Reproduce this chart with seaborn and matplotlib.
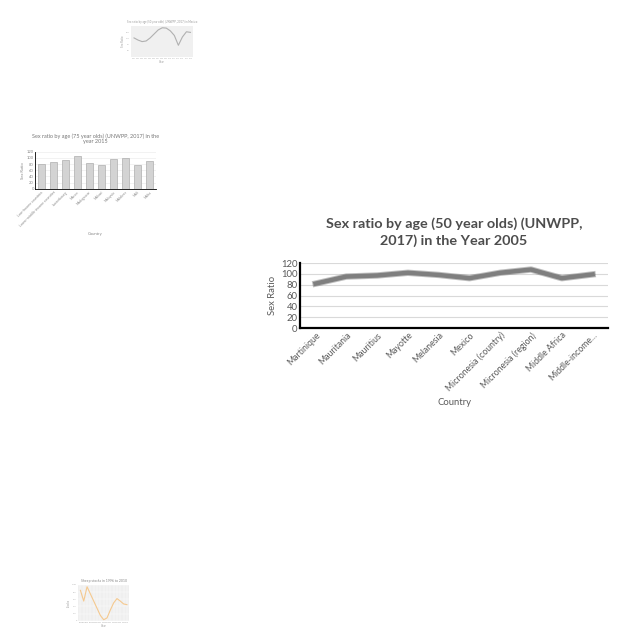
import pandas as pd
import numpy as np
import seaborn as sns
import matplotlib.pyplot as plt

# =========================
# Data
# =========================
countries = ["Martinique", "Mauritania", "Mauritius", "Mayotte", "Melanesia",
             "Mexico", "Micronesia (country)", "Micronesia (region)",
             "Middle Africa", "Middle-income..."]
sex_ratio = [82, 95, 97, 102, 98, 92, 102, 108, 92, 99]

# small thumbnail charts around the main one
thumb1_x = list(range(1, 16))
thumb1_y = [62, 55, 50, 52, 62, 75, 88, 95, 94, 85, 70, 38, 65, 82, 80]

thumb2_labels = ["Low-income countries", "Lower-middle-income countries",
                 "Luxembourg", "Macao", "Madagascar", "Malawi",
                 "Malaysia", "Maldives", "Mali", "Malta"]
thumb2_vals = [80, 88, 92, 107, 83, 76, 97, 98, 77, 90]

thumb3_x = list(range(1, 16))
thumb3_y = [85, 55, 95, 75, 55, 35, 15, 3, 8, 30, 50, 62, 55, 47, 45]

plt.rcParams["font.family"] = ["Lato", "DejaVu Sans"]

fig = plt.figure(figsize=(6.4, 6.4), dpi=100)

# =========================
# Main chart
# =========================
ax = fig.add_axes([0.469, 0.4875, 0.481, 0.1015])
df = pd.DataFrame({"Country": countries, "Sex Ratio": sex_ratio})
sns.lineplot(data=df, x="Country", y="Sex Ratio", sort=False, ax=ax,
             color="#4a4a4a", linewidth=4.6, alpha=0.35)
sns.lineplot(data=df, x="Country", y="Sex Ratio", sort=False, ax=ax,
             color="#7f7f7f", linewidth=3.2)
ax.set_ylim(0, 120)
ax.set_yticks([0, 20, 40, 60, 80, 100, 120])
ax.set_xlim(-0.5, len(countries) - 0.5)
ax.grid(axis="y", color="#d9d9d9", linewidth=0.8)
ax.set_axisbelow(True)
for s in ["top", "right"]:
    ax.spines[s].set_visible(False)
ax.spines["left"].set_linewidth(1.6)
ax.spines["bottom"].set_linewidth(1.6)
ax.tick_params(axis="both", length=0, labelsize=6.8, colors="#595959", pad=2)
plt.setp(ax.get_xticklabels(), rotation=45, ha="right", rotation_mode="anchor",
         fontsize=6.3)
ax.set_xlabel("Country", fontsize=6.8, color="#595959", labelpad=3)
ax.set_ylabel("Sex Ratio", fontsize=6.8, color="#595959", labelpad=3)
ax.set_title("Sex ratio by age (50 year olds) (UNWPP,\n2017) in the Year 2005",
             fontsize=10.4, fontweight="bold", color="#4d4d4d", pad=13,
             linespacing=1.4)

# =========================
# Thumbnail 1 (top)
# =========================
t1 = fig.add_axes([0.205, 0.911, 0.097, 0.048])
t1.set_facecolor("#f0f0f0")
sns.lineplot(x=thumb1_x, y=thumb1_y, ax=t1, color="#b0b0b0", linewidth=0.8)
t1.set_ylim(0, 100)
t1.tick_params(length=0, labelsize=2, colors="#aaaaaa", pad=1)
t1.set_xticks(thumb1_x)
t1.set_xticklabels([str(y) for y in range(2001, 2016)], fontsize=1.2)
t1.set_yticks([20, 40, 60, 80])
t1.set_yticklabels(["80", "90", "100", "110"], fontsize=1.5)
for s in t1.spines.values():
    s.set_visible(False)
t1.set_title("Sex ratio by age (50 year olds) (UNWPP, 2017) in Mexico",
             fontsize=2, color="#999999", pad=2)
t1.set_xlabel("Year", fontsize=2, color="#999999", labelpad=0.5)
t1.set_ylabel("Sex Ratio", fontsize=2, color="#999999", labelpad=0.5)

# =========================
# Thumbnail 2 (bar chart)
# =========================
t2 = fig.add_axes([0.055, 0.705, 0.188, 0.058])
sns.barplot(x=thumb2_labels, y=thumb2_vals, ax=t2, color="#d3d3d3",
            edgecolor="#a0a0a0", linewidth=0.4, width=0.55)
t2.set_ylim(0, 120)
t2.set_yticks([0, 20, 40, 60, 80, 100, 120])
t2.grid(axis="y", color="#e8e8e8", linewidth=0.4)
t2.set_axisbelow(True)
for s in ["top", "right"]:
    t2.spines[s].set_visible(False)
t2.spines["left"].set_linewidth(0.6)
t2.spines["bottom"].set_linewidth(0.6)
t2.tick_params(length=0, labelsize=3, colors="#888888", pad=1)
plt.setp(t2.get_xticklabels(), rotation=45, ha="right", rotation_mode="anchor",
         fontsize=2.5)
t2.set_xlabel("Country", fontsize=3, color="#888888", labelpad=3)
t2.set_ylabel("Sex Ratio", fontsize=3, color="#888888", labelpad=1)
t2.set_title("Sex ratio by age (75 year olds) (UNWPP, 2017) in the\nyear 2015",
             fontsize=4, color="#777777", pad=6)

# =========================
# Thumbnail 3 (bottom)
# =========================
t3 = fig.add_axes([0.122, 0.03, 0.08, 0.056])
t3.set_facecolor("#efefef")
sns.lineplot(x=thumb3_x, y=thumb3_y, ax=t3, color="#f5c98f", linewidth=0.8)
t3.set_ylim(0, 100)
t3.grid(color="white", linewidth=0.3)
t3.tick_params(length=0, labelsize=1.5, colors="#aaaaaa", pad=1)
t3.set_xticks(thumb3_x)
t3.set_xticklabels([str(y) for y in range(1996, 2011)], fontsize=1.2)
t3.set_yticks([0, 20, 40, 60, 80, 100])
t3.set_yticklabels(["0", "20k", "40k", "60k", "80k", "100k"], fontsize=1.5)
for s in t3.spines.values():
    s.set_visible(False)
t3.set_title("Sheep stocks in 1996 to 2010", fontsize=2.5, color="#888888", pad=2)
t3.set_xlabel("Year", fontsize=2, color="#999999", labelpad=0.5)
t3.set_ylabel("Stocks", fontsize=2, color="#999999", labelpad=0.5)

plt.savefig("out.png", dpi=100)
plt.close()
